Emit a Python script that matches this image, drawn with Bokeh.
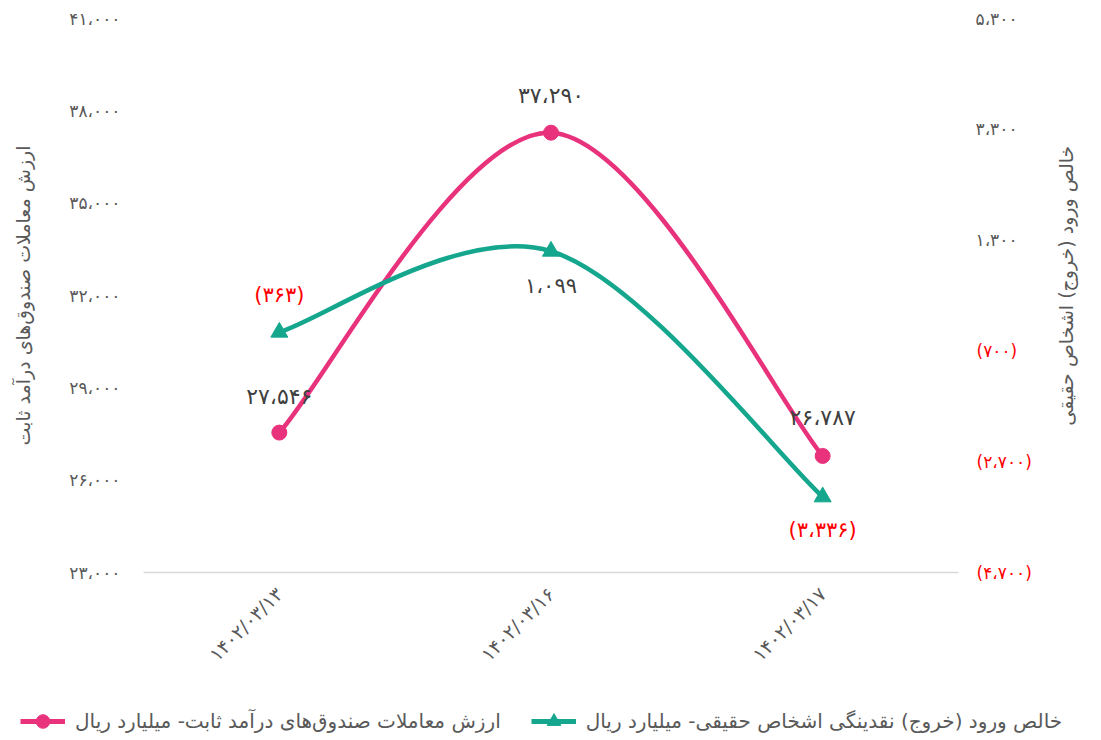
import math
from bokeh.plotting import figure
from bokeh.layouts import column
from bokeh.models import (Range1d, LinearAxis, FixedTicker, Legend, LegendItem,
                          ColumnDataSource)
from bokeh.core.properties import value
from bokeh.embed import file_html
from bokeh.resources import INLINE

# ---------------- data ----------------
dates = ["۱۴۰۲/۰۳/۱۳", "۱۴۰۲/۰۳/۱۶", "۱۴۰۲/۰۳/۱۷"]
fund_value = [27546, 37290, 26787]          # left axis
net_flow = [-363, 1099, -3336]              # right axis
left_ticks = [23000, 26000, 29000, 32000, 35000, 38000, 41000]
right_ticks = [-4700, -2700, -700, 1300, 3300, 5300]
fund_name = "ارزش معاملات صندوق‌های درآمد ثابت- میلیارد ریال"
flow_name = "خالص ورود (خروج) نقدینگی اشخاص حقیقی- میلیارد ریال"
left_title = "ارزش معاملات صندوق‌های درآمد ثابت"
right_title = "خالص ورود (خروج) اشخاص حقیقی"

# ---------------- styles ----------------
PINK = "#E9327C"
TEAL = "#15A68E"
GRAY = "#595959"
DARK = "#404040"
RED = "#FF0000"
FONT = "DejaVu Sans"
TICK_SIZE = "17px"

FA = str.maketrans("0123456789", "۰۱۲۳۴۵۶۷۸۹")


def fa(n):
    s = f"{abs(n):,}".replace(",", "،").translate(FA)
    return f"({s})" if n < 0 else s


x_pos = [i + 0.5 for i in range(len(dates))]


def bezier(xs, ys):
    n = len(xs)
    d = dict(x0=[], y0=[], x1=[], y1=[], cx0=[], cy0=[], cx1=[], cy1=[])
    for i in range(n - 1):
        pi = max(i - 1, 0)
        ni = min(i + 2, n - 1)
        d["x0"].append(xs[i]); d["y0"].append(ys[i])
        d["x1"].append(xs[i + 1]); d["y1"].append(ys[i + 1])
        d["cx0"].append(xs[i] + (xs[i + 1] - xs[pi]) / 6)
        d["cy0"].append(ys[i] + (ys[i + 1] - ys[pi]) / 6)
        d["cx1"].append(xs[i + 1] - (xs[ni] - xs[i]) / 6)
        d["cy1"].append(ys[i + 1] - (ys[ni] - ys[i]) / 6)
    return ColumnDataSource(d)


def style_axis(ax, color=GRAY, standoff=22):
    ax.axis_line_color = None
    ax.major_tick_line_color = None
    ax.minor_tick_line_color = None
    ax.major_label_text_color = color
    ax.major_label_text_font_size = TICK_SIZE
    ax.major_label_text_font = FONT
    ax.major_label_standoff = standoff


def no_frame_align(fig):
    try:
        fig.frame_align = False
    except Exception:
        pass


p = figure(width=1095, height=686, output_backend="svg", toolbar_location=None,
           x_range=Range1d(0, len(dates)),
           y_range=Range1d(left_ticks[0], left_ticks[-1]),
           min_border_left=143, min_border_right=137, min_border_top=18,
           min_border_bottom=114)
p.extra_y_ranges = {"right": Range1d(right_ticks[0], right_ticks[-1])}
p.outline_line_color = None
p.xgrid.visible = False
p.ygrid.visible = False
no_frame_align(p)

# x axis
xa = p.xaxis[0]
xa.ticker = FixedTicker(ticks=x_pos)
xa.major_label_overrides = {x: d for x, d in zip(x_pos, dates)}
xa.major_label_orientation = math.pi / 4
xa.axis_line_color = "#D9D9D9"
xa.axis_line_width = 1.5
xa.major_tick_line_color = None
xa.minor_tick_line_color = None
xa.major_label_text_color = GRAY
xa.major_label_text_font_size = "19px"
xa.major_label_text_font = FONT
xa.major_label_standoff = 12

# left axis
ya = p.yaxis[0]
ya.ticker = FixedTicker(ticks=left_ticks)
ya.major_label_overrides = {t: fa(t) for t in left_ticks}
style_axis(ya, GRAY, 17)
ya.axis_label = left_title
ya.axis_label_text_font_style = "normal"
ya.axis_label_text_font_size = "19px"
ya.axis_label_text_font = FONT
ya.axis_label_text_color = GRAY
ya.axis_label_standoff = 32

# right axes: gray positive labels, red negative labels (pulled back into
# the same column), and the rotated title
pos_ticks = [t for t in right_ticks if t >= 0]
neg_ticks = [t for t in right_ticks if t < 0]
ra_pos = LinearAxis(y_range_name="right", ticker=FixedTicker(ticks=pos_ticks),
                    major_label_overrides={t: fa(t) for t in pos_ticks})
style_axis(ra_pos, GRAY, 11)
p.add_layout(ra_pos, "right")

ra_neg = LinearAxis(y_range_name="right", ticker=FixedTicker(ticks=neg_ticks),
                    major_label_overrides={t: fa(t) for t in neg_ticks})
style_axis(ra_neg, RED, -50)
p.add_layout(ra_neg, "right")

# title anchored so the rotated text sits where the reference has it
title_anchor = right_ticks[0] + 0.265 * (right_ticks[-1] - right_ticks[0])
ra_title = LinearAxis(y_range_name="right",
                      ticker=FixedTicker(ticks=[title_anchor]),
                      major_label_overrides={title_anchor: right_title},
                      major_label_orientation=math.pi / 2)
style_axis(ra_title, GRAY, 26)
ra_title.major_label_text_font_size = "19px"
p.add_layout(ra_title, "right")

# series
p.bezier("x0", "y0", "x1", "y1", "cx0", "cy0", "cx1", "cy1",
         source=bezier(x_pos, fund_value), line_color=PINK, line_width=4.5)
p.scatter(x_pos, fund_value, marker="circle", size=15, color=PINK)
p.bezier("x0", "y0", "x1", "y1", "cx0", "cy0", "cx1", "cy1",
         source=bezier(x_pos, net_flow), line_color=TEAL, line_width=4.5,
         y_range_name="right")
p.scatter(x_pos, net_flow, marker="triangle", size=17, color=TEAL,
          y_range_name="right")

# data labels
fund_offsets = [-36, -37, -38]
flow_offsets = [-37, 35, 33]
p.text(x=x_pos, y=fund_value, text=[fa(v) for v in fund_value],
       y_offset=fund_offsets, text_align="center", text_baseline="middle",
       text_color=DARK, text_font_size="22px", text_font=value(FONT))
p.text(x=x_pos, y=net_flow, text=[fa(v) for v in net_flow],
       y_offset=flow_offsets, text_align="center", text_baseline="middle",
       text_color=[RED if v < 0 else DARK for v in net_flow],
       text_font_size="21px", text_font=value(FONT), y_range_name="right")

# legend strip below the chart: same series styles, drawn out of view so
# only the legend entries show
lg = figure(width=1095, height=52, output_backend="svg", toolbar_location=None,
            x_range=Range1d(-2, -1), y_range=Range1d(-2, -1),
            x_axis_type=None, y_axis_type=None, min_border=0,
            min_border_left=0, min_border_right=0, min_border_top=0,
            min_border_bottom=0)
lg.outline_line_color = None
lg.xgrid.visible = False
lg.ygrid.visible = False
no_frame_align(lg)
l1 = lg.line(x_pos, fund_value, line_color=PINK, line_width=5)
m1 = lg.scatter(x_pos, fund_value, marker="circle", size=15, color=PINK)
l2 = lg.line(x_pos, net_flow, line_color=TEAL, line_width=5)
m2 = lg.scatter(x_pos, net_flow, marker="triangle", size=17, color=TEAL)
legend = Legend(items=[LegendItem(label=fund_name, renderers=[l1, m1]),
                       LegendItem(label=flow_name, renderers=[l2, m2])],
                orientation="horizontal", location=(20, 0),
                border_line_color=None, background_fill_alpha=0,
                label_text_font_size="20px", label_text_color=GRAY,
                label_text_font=FONT,
                glyph_width=45, glyph_height=34, spacing=30, label_standoff=10,
                padding=0, margin=0)
lg.add_layout(legend)

layout = column(p, lg, spacing=0)
open("out.html", "w").write(file_html(layout, INLINE))
